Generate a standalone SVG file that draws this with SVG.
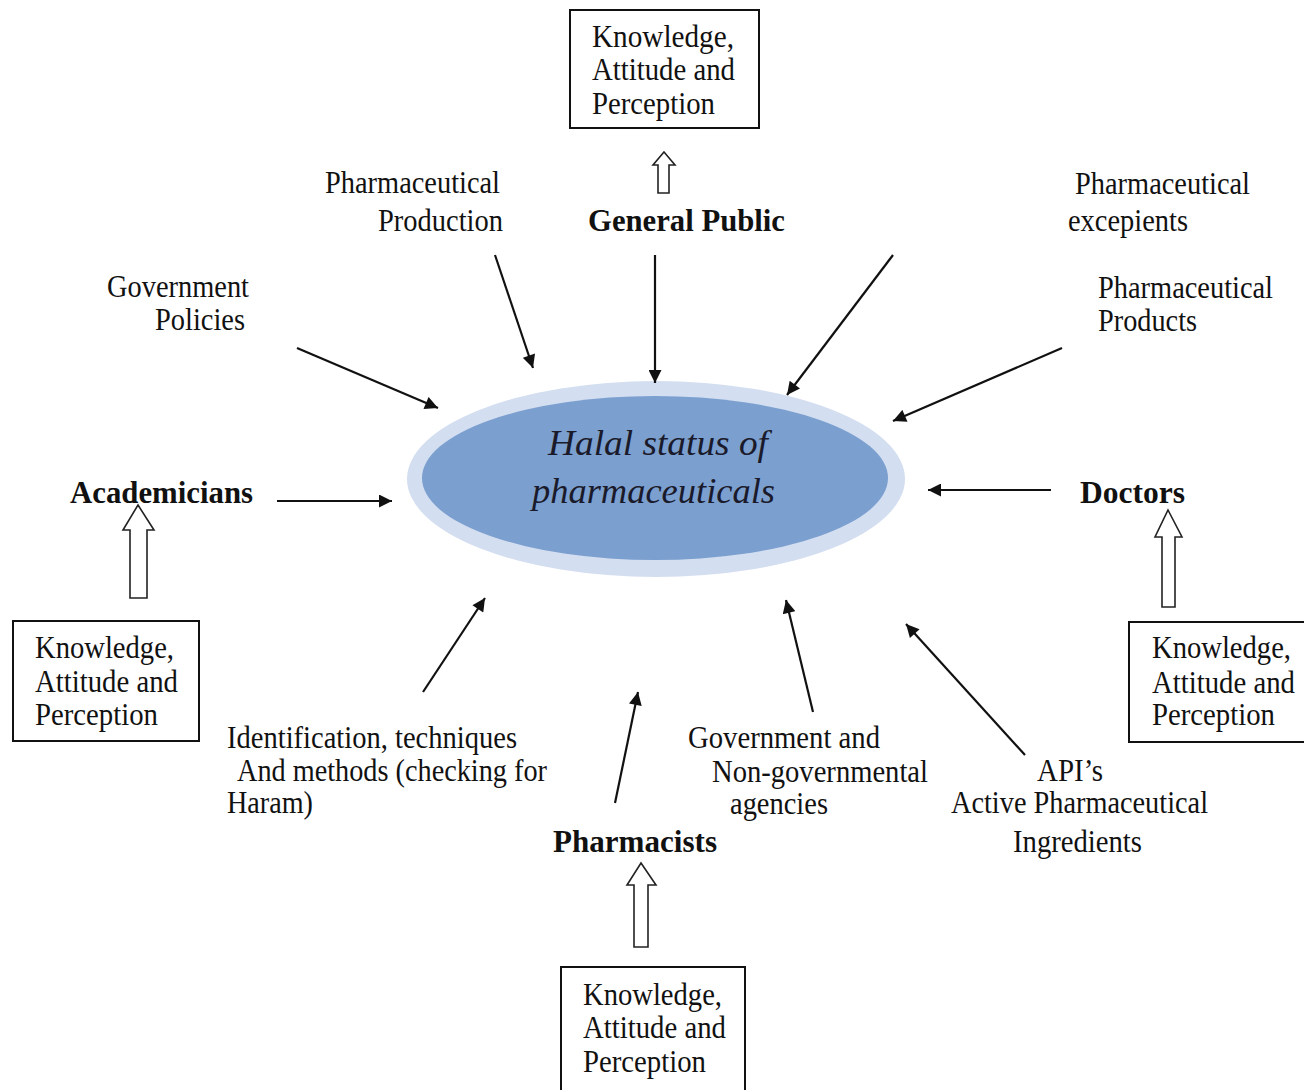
<svg xmlns="http://www.w3.org/2000/svg" width="1304" height="1090" viewBox="0 0 1304 1090">
  <style>
    .lbl { font-family: 'Liberation Serif', Tinos, 'Times New Roman', Times, serif; font-size: 31px; fill: #111; }
    .bold { font-weight: bold; }
    .core { font-family: 'Liberation Serif', Tinos, 'Times New Roman', Times, serif; font-size: 36px; font-style: italic; fill: #1a1a2a; }
    .box { fill: #fff; stroke: #111; stroke-width: 2; }
    .hollow { fill: #fff; stroke: #222; stroke-width: 1.6; stroke-linejoin: miter; }
    .link { stroke: #111; stroke-width: 2.2; fill: none; marker-end: url(#head); }
  </style>
  <defs>
    <marker id="head" viewBox="0 0 10 10" refX="10" refY="5" markerWidth="15" markerHeight="13" markerUnits="userSpaceOnUse" orient="auto">
      <path d="M0,0 L10,5 L0,10 z" fill="#111"/>
    </marker>
  </defs>
  <rect width="1304" height="1090" fill="#fff"/>

  <!-- central concept -->
  <g id="halal-status">
    <ellipse cx="656" cy="479" rx="249" ry="98" fill="#d3def0"/>
    <ellipse cx="655" cy="478" rx="233" ry="82" fill="#7b9fcf"/>
    <text class="core" x="548" y="455" textLength="220" lengthAdjust="spacingAndGlyphs">Halal status of</text>
    <text class="core" x="532" y="503" textLength="243" lengthAdjust="spacingAndGlyphs">pharmaceuticals</text>
  </g>

  <!-- stakeholders -->
  <g id="general-public">
    <text class="lbl bold" x="588" y="231" textLength="197" lengthAdjust="spacingAndGlyphs">General Public</text>
  </g>
  <g id="academicians">
    <text class="lbl bold" x="70" y="503" textLength="183" lengthAdjust="spacingAndGlyphs">Academicians</text>
  </g>
  <g id="doctors">
    <text class="lbl bold" x="1080" y="503" textLength="105" lengthAdjust="spacingAndGlyphs">Doctors</text>
  </g>
  <g id="pharmacists">
    <text class="lbl bold" x="553" y="852" textLength="164" lengthAdjust="spacingAndGlyphs">Pharmacists</text>
  </g>

  <!-- influencing factors -->
  <g id="pharmaceutical-production">
    <text class="lbl" x="325" y="193" textLength="175" lengthAdjust="spacingAndGlyphs">Pharmaceutical</text>
    <text class="lbl" x="378" y="231" textLength="125" lengthAdjust="spacingAndGlyphs">Production</text>
  </g>
  <g id="government-policies">
    <text class="lbl" x="107" y="297" textLength="142" lengthAdjust="spacingAndGlyphs">Government</text>
    <text class="lbl" x="155" y="330" textLength="90" lengthAdjust="spacingAndGlyphs">Policies</text>
  </g>
  <g id="pharmaceutical-excipients">
    <text class="lbl" x="1075" y="194" textLength="175" lengthAdjust="spacingAndGlyphs">Pharmaceutical</text>
    <text class="lbl" x="1068" y="231" textLength="120" lengthAdjust="spacingAndGlyphs">excepients</text>
  </g>
  <g id="pharmaceutical-products">
    <text class="lbl" x="1098" y="298" textLength="175" lengthAdjust="spacingAndGlyphs">Pharmaceutical</text>
    <text class="lbl" x="1098" y="331" textLength="99" lengthAdjust="spacingAndGlyphs">Products</text>
  </g>
  <g id="identification-methods">
    <text class="lbl" x="227" y="748" textLength="290" lengthAdjust="spacingAndGlyphs">Identification, techniques</text>
    <text class="lbl" x="237" y="781" textLength="310" lengthAdjust="spacingAndGlyphs">And methods (checking for</text>
    <text class="lbl" x="227" y="813" textLength="86" lengthAdjust="spacingAndGlyphs">Haram)</text>
  </g>
  <g id="agencies">
    <text class="lbl" x="688" y="748" textLength="192" lengthAdjust="spacingAndGlyphs">Government and</text>
    <text class="lbl" x="712" y="782" textLength="216" lengthAdjust="spacingAndGlyphs">Non-governmental</text>
    <text class="lbl" x="730" y="814" textLength="98" lengthAdjust="spacingAndGlyphs">agencies</text>
  </g>
  <g id="api">
    <text class="lbl" x="1037" y="781" textLength="66" lengthAdjust="spacingAndGlyphs">API’s</text>
    <text class="lbl" x="951" y="813" textLength="257" lengthAdjust="spacingAndGlyphs">Active Pharmaceutical</text>
    <text class="lbl" x="1013" y="852" textLength="129" lengthAdjust="spacingAndGlyphs">Ingredients</text>
  </g>

  <!-- knowledge, attitude and perception boxes -->
  <g id="kap-public">
    <rect class="box" x="570" y="10" width="189" height="118"/>
    <text class="lbl" x="592" y="47" textLength="142" lengthAdjust="spacingAndGlyphs">Knowledge,</text>
    <text class="lbl" x="592" y="80" textLength="143" lengthAdjust="spacingAndGlyphs">Attitude and</text>
    <text class="lbl" x="592" y="114" textLength="123" lengthAdjust="spacingAndGlyphs">Perception</text>
  </g>
  <g id="kap-academicians">
    <rect class="box" x="13" y="621" width="186" height="120"/>
    <text class="lbl" x="35" y="658" textLength="139" lengthAdjust="spacingAndGlyphs">Knowledge,</text>
    <text class="lbl" x="35" y="692" textLength="143" lengthAdjust="spacingAndGlyphs">Attitude and</text>
    <text class="lbl" x="35" y="725" textLength="123" lengthAdjust="spacingAndGlyphs">Perception</text>
  </g>
  <g id="kap-doctors">
    <rect class="box" x="1129" y="622" width="190" height="120"/>
    <text class="lbl" x="1152" y="658" textLength="139" lengthAdjust="spacingAndGlyphs">Knowledge,</text>
    <text class="lbl" x="1152" y="693" textLength="143" lengthAdjust="spacingAndGlyphs">Attitude and</text>
    <text class="lbl" x="1152" y="725" textLength="123" lengthAdjust="spacingAndGlyphs">Perception</text>
  </g>
  <g id="kap-pharmacists">
    <rect class="box" x="561" y="967" width="184" height="140"/>
    <text class="lbl" x="583" y="1005" textLength="139" lengthAdjust="spacingAndGlyphs">Knowledge,</text>
    <text class="lbl" x="583" y="1038" textLength="143" lengthAdjust="spacingAndGlyphs">Attitude and</text>
    <text class="lbl" x="583" y="1072" textLength="123" lengthAdjust="spacingAndGlyphs">Perception</text>
  </g>

  <!-- hollow block arrows from stakeholders to their KAP boxes -->
  <g id="block-arrows">
    <path class="hollow" d="M664,152 L675,165 L669,165 L669,193 L658,193 L658,165 L653,165 Z"/>
    <path class="hollow" d="M138,505 L154,530 L147,530 L147,598 L130,598 L130,530 L123,530 Z"/>
    <path class="hollow" d="M1168,510 L1182,537 L1175,537 L1175,607 L1162,607 L1162,537 L1155,537 Z"/>
    <path class="hollow" d="M641,863 L656,885 L648,885 L648,947 L634,947 L634,885 L627,885 Z"/>
  </g>

  <!-- connectors into the central concept -->
  <g id="connectors">
    <line class="link" x1="655" y1="255" x2="655" y2="383"/>
    <line class="link" x1="495" y1="255" x2="533" y2="368"/>
    <line class="link" x1="297" y1="348" x2="438" y2="408"/>
    <line class="link" x1="893" y1="255" x2="787" y2="395"/>
    <line class="link" x1="1062" y1="348" x2="893" y2="421"/>
    <line class="link" x1="277" y1="501" x2="392" y2="501"/>
    <line class="link" x1="1051" y1="490" x2="928" y2="490"/>
    <line class="link" x1="423" y1="692" x2="485" y2="598"/>
    <line class="link" x1="615" y1="803" x2="638" y2="692"/>
    <line class="link" x1="813" y1="712" x2="786" y2="600"/>
    <line class="link" x1="1025" y1="755" x2="906" y2="624"/>
  </g>
</svg>
